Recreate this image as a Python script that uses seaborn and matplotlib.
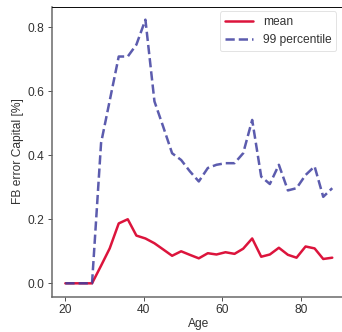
import numpy as np
import pandas as pd
import matplotlib
matplotlib.use('Agg')
import matplotlib.pyplot as plt
import seaborn as sns

# Age grid and read-off values
ages = [20.0, 22.3, 24.5, 26.8, 29.1, 31.3, 33.6, 35.9, 38.1, 40.4, 42.7,
        44.9, 47.2, 49.5, 51.7, 54.0, 56.3, 58.5, 60.8, 63.1, 65.3, 67.6,
        69.9, 72.1, 74.4, 76.7, 78.9, 81.2, 83.5, 85.7, 88.0]
mean_err = [0.0, 0.0, 0.0, 0.0, 0.055, 0.109, 0.187, 0.200, 0.149, 0.140, 0.125,
            0.106, 0.086, 0.100, 0.089, 0.078, 0.094, 0.090, 0.097, 0.092, 0.108, 0.140,
            0.083, 0.090, 0.111, 0.089, 0.080, 0.115, 0.109, 0.076, 0.080]
p99_err = [0.0, 0.0, 0.0, 0.0, 0.438, 0.570, 0.708, 0.708, 0.745, 0.823, 0.568,
           0.490, 0.406, 0.385, 0.350, 0.318, 0.360, 0.370, 0.375, 0.375, 0.406, 0.510,
           0.333, 0.310, 0.370, 0.290, 0.297, 0.338, 0.365, 0.270, 0.297]

df = pd.DataFrame({'Age': ages, 'mean': mean_err, '99 percentile': p99_err})

sns.set_style('white')
plt.rcParams['font.family'] = ['Liberation Sans', 'DejaVu Sans']

fig = plt.figure(figsize=(342 / 72, 332 / 72), dpi=72)
ax = fig.add_axes([52 / 342, 1 - 296.5 / 332, 293.6 / 342, 290 / 332])

sns.lineplot(data=df, x='Age', y='mean', ax=ax, color='#DC143C', lw=2.5, label='mean')
sns.lineplot(data=df, x='Age', y='99 percentile', ax=ax, color='#3F3FA0', alpha=0.85,
             lw=2.5, linestyle='--', label='99 percentile')

ax.set_xlabel('Age', color='#333333', fontsize=12, labelpad=2)
ax.set_ylabel('FB error Capital [%]', color='#333333', fontsize=12, labelpad=4)
ax.set_xticks([20, 40, 60, 80])
ax.set_yticks([0.0, 0.2, 0.4, 0.6, 0.8])
ax.tick_params(axis='both', direction='out', length=4, width=1, colors='#555555',
               labelcolor='#333333', labelsize=12, left=True, bottom=True)

for side in ['left', 'bottom']:
    ax.spines[side].set_color('#666666')
    ax.spines[side].set_linewidth(1.5)
ax.spines['top'].set_color('#111111')
ax.spines['top'].set_linewidth(1.0)
ax.spines['right'].set_visible(False)

leg = ax.legend(loc='upper right', frameon=True, handlelength=2.4, fontsize=12,
                borderaxespad=0.4, bbox_to_anchor=(0.985, 1.0))
leg.get_frame().set_edgecolor('#dddddd')
for t in leg.get_texts():
    t.set_color('#333333')

plt.savefig('out.png', dpi=72)
